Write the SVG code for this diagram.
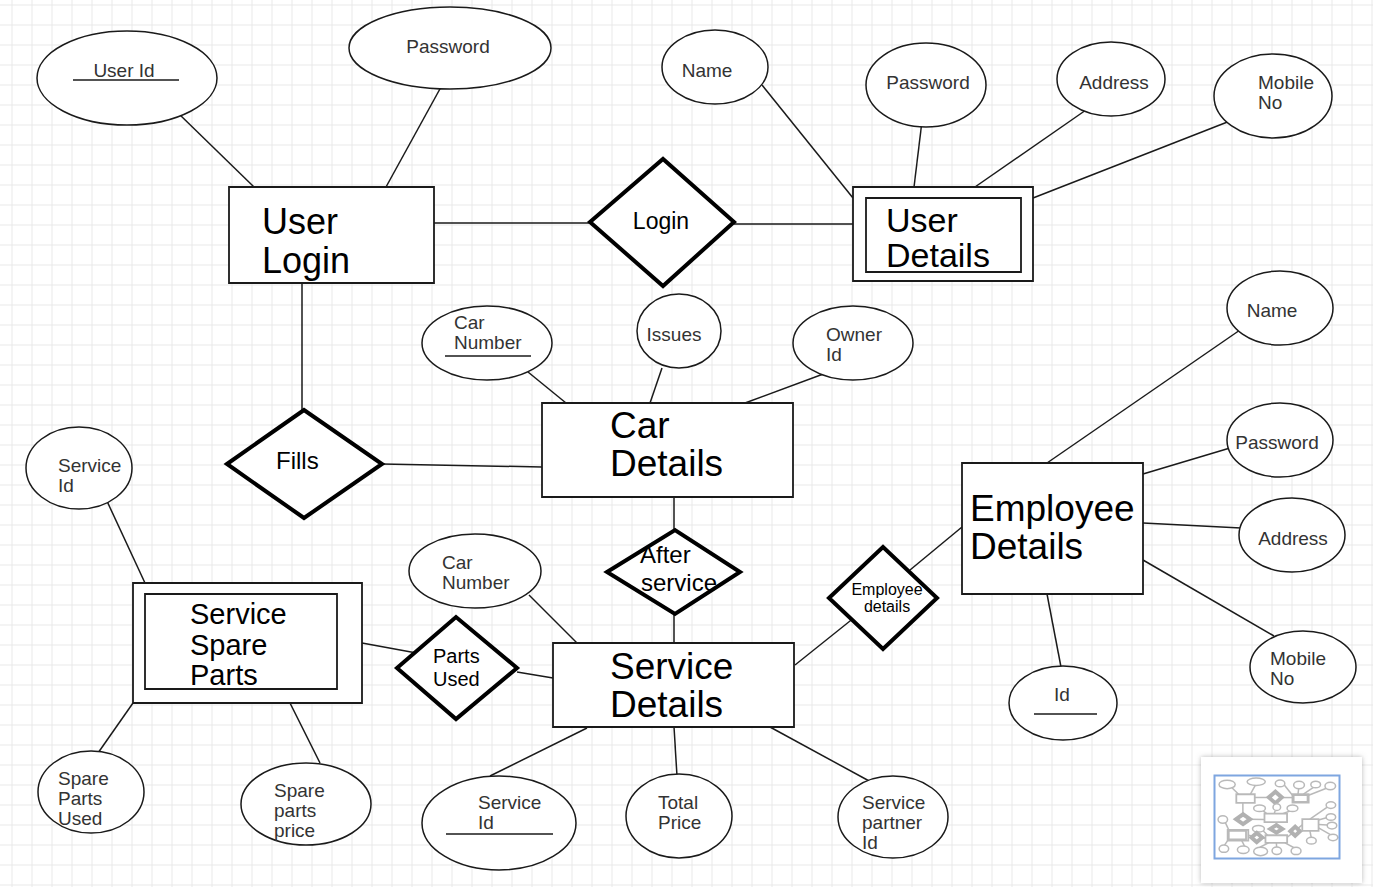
<svg xmlns="http://www.w3.org/2000/svg" xmlns:xlink="http://www.w3.org/1999/xlink" width="1373" height="887" viewBox="0 0 1373 887">
<defs>
<pattern id="grid" width="20" height="20" patternUnits="userSpaceOnUse" x="11.5" y="4.5">
<path d="M0 0.5H20M0.5 0V20" stroke="#e8e8e8" stroke-width="1" fill="none"/>
</pattern>
<filter id="shadow" x="-10%" y="-10%" width="120%" height="120%">
<feDropShadow dx="0" dy="0" stdDeviation="2.5" flood-color="#888" flood-opacity="0.6"/>
</filter>
</defs>
<style>
.attr{fill:#fff;stroke:#1a1a1a;stroke-width:1.5;vector-effect:non-scaling-stroke}
.ent{fill:#fff;stroke:#1a1a1a;stroke-width:1.8;vector-effect:non-scaling-stroke}
.rel{fill:#fff;stroke:#000;stroke-width:4;vector-effect:non-scaling-stroke}
.con line{stroke:#1a1a1a;stroke-width:1.5;vector-effect:non-scaling-stroke}
.ul{stroke:#1a1a1a;stroke-width:1.5}
text{font-family:"Liberation Sans",Arial,sans-serif}
.at{font-size:19px;fill:#333}
.et{font-size:37px;fill:#000}
.rt{font-size:24px;fill:#000}
.mid{text-anchor:middle}
</style>
<rect width="1373" height="887" fill="#fff"/>
<rect width="1373" height="887" fill="url(#grid)"/>

<g id="connectors" class="con">
<line x1="178" y1="113" x2="254" y2="187"/>
<line x1="441" y1="87" x2="386" y2="187"/>
<line x1="434" y1="223" x2="590" y2="223"/>
<line x1="734" y1="224" x2="857" y2="224"/>
<line x1="762" y1="85" x2="853" y2="198"/>
<line x1="922" y1="121" x2="914" y2="187"/>
<line x1="1086" y1="110" x2="975" y2="187"/>
<line x1="1230" y1="121" x2="1033" y2="198"/>
<line x1="302" y1="283" x2="302" y2="410"/>
<line x1="382" y1="464" x2="542" y2="467"/>
<line x1="528" y1="372" x2="566" y2="403"/>
<line x1="662" y1="368" x2="650" y2="403"/>
<line x1="826" y1="373" x2="745" y2="403"/>
<line x1="674" y1="497" x2="674" y2="530"/>
<line x1="674" y1="614" x2="674" y2="643"/>
<line x1="529" y1="595" x2="577" y2="643"/>
<line x1="362" y1="643" x2="422" y2="654"/>
<line x1="517" y1="672" x2="553" y2="678"/>
<line x1="795" y1="665" x2="855" y2="617"/>
<line x1="910" y1="570" x2="962" y2="527"/>
<line x1="1047" y1="463" x2="1240" y2="330"/>
<line x1="1143" y1="474" x2="1230" y2="448"/>
<line x1="1143" y1="523" x2="1241" y2="528"/>
<line x1="1143" y1="560" x2="1274" y2="636"/>
<line x1="1047" y1="594" x2="1061" y2="667"/>
<line x1="587" y1="728" x2="490" y2="776"/>
<line x1="674" y1="727" x2="677" y2="776"/>
<line x1="770" y1="727" x2="871" y2="782"/>
<line x1="106" y1="499" x2="145" y2="583"/>
<line x1="133" y1="703" x2="98" y2="753"/>
<line x1="290" y1="703" x2="320" y2="763"/>
</g>

<!-- User Login and attributes -->
<g id="attr-userid">
<ellipse id="s1" class="attr" cx="127" cy="78" rx="90" ry="47"/>
<text class="at mid" x="124" y="77">User Id</text>
<line class="ul" x1="73" y1="80" x2="179" y2="80"/>
</g>
<g id="attr-login-password">
<ellipse id="s2" class="attr" cx="450" cy="48" rx="101" ry="41"/>
<text class="at mid" x="448" y="53">Password</text>
</g>
<g id="ent-userlogin">
<rect id="s3" class="ent" x="229" y="187" width="205" height="96"/>
<text class="et" style="font-size:36px" x="262" y="234">User</text>
<text class="et" style="font-size:36px" x="262" y="273">Login</text>
</g>
<g id="rel-login">
<polygon id="s4" class="rel" points="590,222 663,159 734,222 663,286"/>
<text class="rt mid" style="font-size:23px" x="661" y="229">Login</text>
</g>

<!-- User Details -->
<g id="ent-userdetails">
<rect id="s5" class="ent" x="853" y="187" width="180" height="94"/>
<rect id="s6" class="ent" x="866" y="198" width="155" height="74"/>
<text class="et" style="font-size:34px" x="886" y="232">User</text>
<text class="et" style="font-size:34px" x="886" y="267">Details</text>
</g>
<g id="attr-ud-name">
<ellipse id="s7" class="attr" cx="715" cy="67" rx="53" ry="37"/>
<text class="at mid" x="707" y="77">Name</text>
</g>
<g id="attr-ud-password">
<ellipse id="s8" class="attr" cx="926" cy="85" rx="60" ry="42"/>
<text class="at mid" x="928" y="89">Password</text>
</g>
<g id="attr-ud-address">
<ellipse id="s9" class="attr" cx="1111" cy="79" rx="54" ry="37"/>
<text class="at mid" x="1114" y="89">Address</text>
</g>
<g id="attr-ud-mobile">
<ellipse id="s10" class="attr" cx="1273" cy="96" rx="59" ry="42"/>
<text class="at" x="1258" y="89">Mobile</text>
<text class="at" x="1258" y="109">No</text>
</g>

<!-- Fills -->
<g id="rel-fills">
<polygon id="s11" class="rel" points="227,464 304,410 382,464 304,518"/>
<text class="rt" x="276" y="469">Fills</text>
</g>

<!-- Car Details -->
<g id="ent-cardetails">
<rect id="s12" class="ent" x="542" y="403" width="251" height="94"/>
<text class="et" x="610" y="438">Car</text>
<text class="et" x="610" y="476">Details</text>
</g>
<g id="attr-car-number">
<ellipse id="s13" class="attr" cx="487" cy="343" rx="65" ry="37"/>
<text class="at" x="454" y="329">Car</text>
<text class="at" x="454" y="349">Number</text>
<line class="ul" x1="445" y1="356" x2="531" y2="356"/>
</g>
<g id="attr-car-issues">
<ellipse id="s14" class="attr" cx="679" cy="331" rx="42" ry="37"/>
<text class="at mid" x="674" y="341">Issues</text>
</g>
<g id="attr-car-owner">
<ellipse id="s15" class="attr" cx="853" cy="343" rx="60" ry="37"/>
<text class="at" x="826" y="341">Owner</text>
<text class="at" x="826" y="361">Id</text>
</g>

<!-- After service -->
<g id="rel-afterservice">
<polygon id="s16" class="rel" points="607,572 675,530 740,572 675,614"/>
<text class="rt" x="640" y="563">After</text>
<text class="rt" x="641" y="591">service</text>
</g>

<!-- Service Details -->
<g id="ent-servicedetails">
<rect id="s17" class="ent" x="553" y="643" width="241" height="84"/>
<text class="et" x="610" y="679">Service</text>
<text class="et" x="610" y="717">Details</text>
</g>
<g id="attr-sd-carnumber">
<ellipse id="s18" class="attr" cx="475" cy="571" rx="66" ry="37"/>
<text class="at" x="442" y="569">Car</text>
<text class="at" x="442" y="589">Number</text>
</g>
<g id="attr-sd-serviceid">
<ellipse id="s19" class="attr" cx="499" cy="823" rx="77" ry="47"/>
<text class="at" x="478" y="809">Service</text>
<text class="at" x="478" y="829">Id</text>
<line class="ul" x1="446" y1="834" x2="553" y2="834"/>
</g>
<g id="attr-sd-totalprice">
<ellipse id="s20" class="attr" cx="679" cy="816" rx="53" ry="42"/>
<text class="at" x="658" y="809">Total</text>
<text class="at" x="658" y="829">Price</text>
</g>
<g id="attr-sd-partner">
<ellipse id="s21" class="attr" cx="893" cy="817" rx="55" ry="41"/>
<text class="at" x="862" y="809">Service</text>
<text class="at" x="862" y="829">partner</text>
<text class="at" x="862" y="849">Id</text>
</g>

<!-- Parts Used -->
<g id="rel-partsused">
<polygon id="s22" class="rel" points="397,668 456,617 517,668 456,719"/>
<text class="rt" style="font-size:20px" x="433" y="663">Parts</text>
<text class="rt" style="font-size:20px" x="433" y="686">Used</text>
</g>

<!-- Service Spare Parts -->
<g id="ent-servicespareparts">
<rect id="s23" class="ent" x="133" y="583" width="229" height="120"/>
<rect id="s24" class="ent" x="145" y="594" width="192" height="95"/>
<text class="et" style="font-size:29px" x="190" y="624">Service</text>
<text class="et" style="font-size:29px" x="190" y="655">Spare</text>
<text class="et" style="font-size:29px" x="190" y="685">Parts</text>
</g>
<g id="attr-ssp-serviceid">
<ellipse id="s25" class="attr" cx="79" cy="468" rx="53" ry="41"/>
<text class="at" x="58" y="472">Service</text>
<text class="at" x="58" y="492">Id</text>
</g>
<g id="attr-ssp-used">
<ellipse id="s26" class="attr" cx="91" cy="792" rx="53" ry="41"/>
<text class="at" x="58" y="785">Spare</text>
<text class="at" x="58" y="805">Parts</text>
<text class="at" x="58" y="825">Used</text>
</g>
<g id="attr-ssp-price">
<ellipse id="s27" class="attr" cx="306" cy="804" rx="65" ry="41"/>
<text class="at" x="274" y="797">Spare</text>
<text class="at" x="274" y="817">parts</text>
<text class="at" x="274" y="837">price</text>
</g>

<!-- Employee Details -->
<g id="rel-employeedetails">
<polygon id="s28" class="rel" points="829,598 883,547 937,598 883,649"/>
<text class="rt mid" style="font-size:16px" x="887" y="595">Employee</text>
<text class="rt mid" style="font-size:16px" x="887" y="612">details</text>
</g>
<g id="ent-employeedetails">
<rect id="s29" class="ent" x="962" y="463" width="181" height="131"/>
<text class="et" x="970" y="521">Employee</text>
<text class="et" x="970" y="559">Details</text>
</g>
<g id="attr-emp-name">
<ellipse id="s30" class="attr" cx="1280" cy="308" rx="53" ry="37"/>
<text class="at mid" x="1272" y="317">Name</text>
</g>
<g id="attr-emp-password">
<ellipse id="s31" class="attr" cx="1280" cy="440" rx="53" ry="37"/>
<text class="at mid" x="1277" y="449">Password</text>
</g>
<g id="attr-emp-address">
<ellipse id="s32" class="attr" cx="1292" cy="535" rx="53" ry="37"/>
<text class="at mid" x="1293" y="545">Address</text>
</g>
<g id="attr-emp-mobile">
<ellipse id="s33" class="attr" cx="1303" cy="667" rx="53" ry="36"/>
<text class="at" x="1270" y="665">Mobile</text>
<text class="at" x="1270" y="685">No</text>
</g>
<g id="attr-emp-id">
<ellipse id="s34" class="attr" cx="1063" cy="703" rx="54" ry="37"/>
<text class="at mid" x="1062" y="701">Id</text>
<line class="ul" x1="1034" y1="714" x2="1097" y2="714"/>
</g>

<!-- Outline / minimap -->
<g id="minimap">
<rect x="1201" y="757" width="161" height="126" fill="#fff" filter="url(#shadow)"/>
<rect x="1214.5" y="775.5" width="125" height="83" fill="#fff" stroke="#7ea6e0" stroke-width="2"/>
<g transform="translate(1215.7,777.4) scale(0.09)" opacity="0.3">
<use xlink:href="#connectors"/>
<use xlink:href="#s1"/><use xlink:href="#s2"/><use xlink:href="#s3"/><use xlink:href="#s4"/>
<use xlink:href="#s5"/><use xlink:href="#s6"/><use xlink:href="#s7"/><use xlink:href="#s8"/>
<use xlink:href="#s9"/><use xlink:href="#s10"/><use xlink:href="#s11"/><use xlink:href="#s12"/>
<use xlink:href="#s13"/><use xlink:href="#s14"/><use xlink:href="#s15"/><use xlink:href="#s16"/>
<use xlink:href="#s17"/><use xlink:href="#s18"/><use xlink:href="#s19"/><use xlink:href="#s20"/>
<use xlink:href="#s21"/><use xlink:href="#s22"/><use xlink:href="#s23"/><use xlink:href="#s24"/>
<use xlink:href="#s25"/><use xlink:href="#s26"/><use xlink:href="#s27"/><use xlink:href="#s28"/>
<use xlink:href="#s29"/><use xlink:href="#s30"/><use xlink:href="#s31"/><use xlink:href="#s32"/>
<use xlink:href="#s33"/><use xlink:href="#s34"/>
</g>
</g>
</svg>
